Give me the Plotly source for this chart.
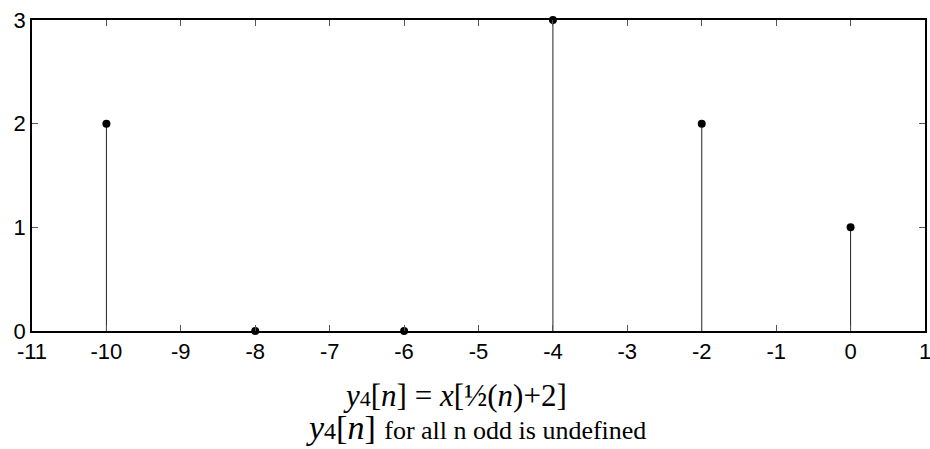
import plotly.graph_objects as go

n_vals = [-10, -8, -6, -4, -2, 0]
y_vals = [2, 0, 0, 3, 2, 1]
x_ticks = list(range(-11, 2))
x_tick_text = [str(v) for v in x_ticks]
y_ticks = [0, 1, 2, 3]
y_tick_text = [str(v) for v in y_ticks]

stem_x, stem_y = [], []
for xv, yv in zip(n_vals, y_vals):
    stem_x += [xv, xv, None]
    stem_y += [0, yv, None]

fig = go.Figure()
fig.add_trace(go.Scatter(x=stem_x, y=stem_y, mode="lines",
                         line=dict(color="#222222", width=1), hoverinfo="skip",
                         cliponaxis=False))
fig.add_trace(go.Scatter(x=n_vals, y=y_vals, mode="markers",
                         marker=dict(color="black", size=8), cliponaxis=False))

axis_common = dict(showline=True, linecolor="black", linewidth=1.5, mirror="ticks",
                   ticks="inside", ticklen=6, tickcolor="#555555", tickwidth=1,
                   showgrid=False, zeroline=False, automargin=False,
                   ticklabeloverflow="allow",
                   tickfont=dict(family="Liberation Sans, Arial", size=22, color="black"))
fig.update_xaxes(range=[-11, 1], tickvals=x_ticks, ticktext=x_tick_text, **axis_common)
fig.update_yaxes(range=[0, 3], tickvals=y_ticks, ticktext=y_tick_text, **axis_common)

serif = "Liberation Serif, Times New Roman"
fig.add_annotation(
    text="<i>y</i><span style='font-size:22px'>4</span>[<i>n</i>] = <i>x</i>[½(<i>n</i>)+2]",
    xref="paper", yref="paper", x=0.474, y=-0.209, xanchor="center", yanchor="middle",
    showarrow=False, font=dict(family=serif, size=31, color="black"))
fig.add_annotation(
    text="<i>y</i><span style='font-size:24px'>4</span>[<i>n</i>] <span style='font-size:26px'>for all n odd is undefined</span>",
    xref="paper", yref="paper", x=0.497, y=-0.31, xanchor="center", yanchor="middle",
    showarrow=False, font=dict(family=serif, size=34, color="black"))

fig.update_layout(width=930, height=449, margin=dict(l=32, r=5, t=20, b=118),
                  plot_bgcolor="white", paper_bgcolor="white", showlegend=False)
fig.write_html("out.html", post_script="document.body.style.margin='0';",
               config={"displayModeBar": False})
